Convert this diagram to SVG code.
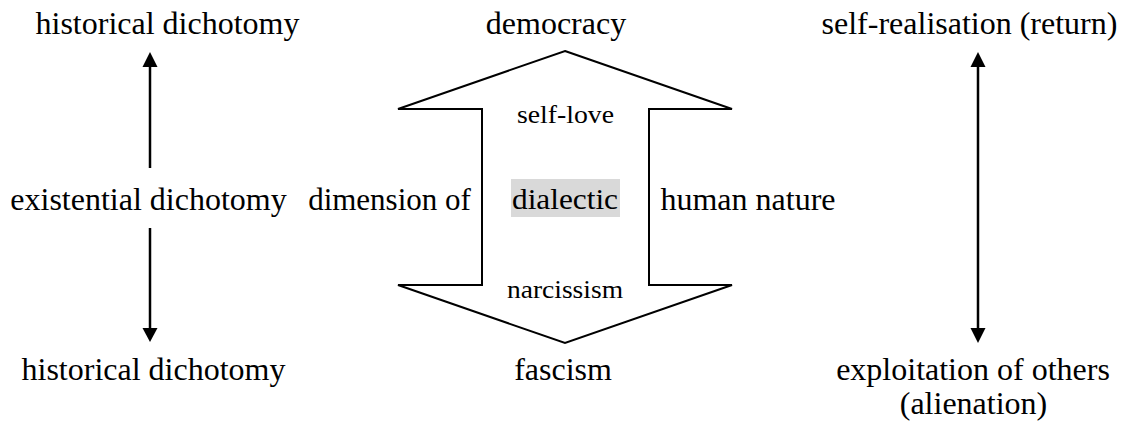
<svg xmlns="http://www.w3.org/2000/svg" width="1124" height="427" viewBox="0 0 1124 427">
<style>
.ln{stroke:#000;stroke-width:2.5;fill:none}
.hd{fill:#000;stroke:none}
</style>
<rect width="1124" height="427" fill="#fff"/>
<g id="big-arrow">
<polygon points="565,51 732,109 649,109 649,285 732,285 565,343 398,285 482,285 482,109 398,109" fill="#fff" stroke="#000" stroke-width="2"/>
<text font-family="Liberation Serif" font-size="25" text-anchor="middle" transform="translate(565.5,123) scale(1.11,1)">self-love</text>
<text font-family="Liberation Serif" font-size="25" text-anchor="middle" transform="translate(565,298) scale(1.1,1)">narcissism</text>
</g>
<g id="dialectic">
<rect x="511" y="179" width="109" height="38" fill="#d9d9d9"/>
<text font-family="Liberation Serif" font-size="29" text-anchor="middle" transform="translate(565,209) scale(1.08,1)">dialectic</text>
</g>
<g id="hist-top"><text font-family="Liberation Serif" font-size="32" text-anchor="middle" x="167.5" y="34">historical dichotomy</text></g>
<g id="democracy"><text font-family="Liberation Serif" font-size="32" text-anchor="middle" x="556" y="34">democracy</text></g>
<g id="self-realisation"><text font-family="Liberation Serif" font-size="32" text-anchor="middle" x="969.5" y="34">self-realisation (return)</text></g>
<g id="existential"><text font-family="Liberation Serif" font-size="32" text-anchor="middle" x="148.5" y="210">existential dichotomy</text></g>
<g id="dimension"><text font-family="Liberation Serif" font-size="31" text-anchor="middle" x="389.5" y="210">dimension of</text></g>
<g id="human-nature"><text font-family="Liberation Serif" font-size="32" text-anchor="middle" x="748" y="210">human nature</text></g>
<g id="hist-bottom"><text font-family="Liberation Serif" font-size="32" text-anchor="middle" x="153.5" y="380">historical dichotomy</text></g>
<g id="fascism"><text font-family="Liberation Serif" font-size="32" text-anchor="middle" x="563" y="380">fascism</text></g>
<g id="exploitation">
<text font-family="Liberation Serif" font-size="32" text-anchor="middle" x="973" y="380">exploitation of others</text>
<text font-family="Liberation Serif" font-size="32" text-anchor="middle" x="973.5" y="414">(alienation)</text>
</g>
<g id="connectors">
<line class="ln" x1="150" y1="168" x2="150" y2="64"/>
<polygon class="hd" points="150,52 157.5,67 142.5,67"/>
<line class="ln" x1="150" y1="228" x2="150" y2="331"/>
<polygon class="hd" points="150,342 157.5,328 142.5,328"/>
<line class="ln" x1="978" y1="64" x2="978" y2="331"/>
<polygon class="hd" points="978,52 985.5,67 970.5,67"/>
<polygon class="hd" points="978,343 985.5,328 970.5,328"/>
</g>
</svg>
